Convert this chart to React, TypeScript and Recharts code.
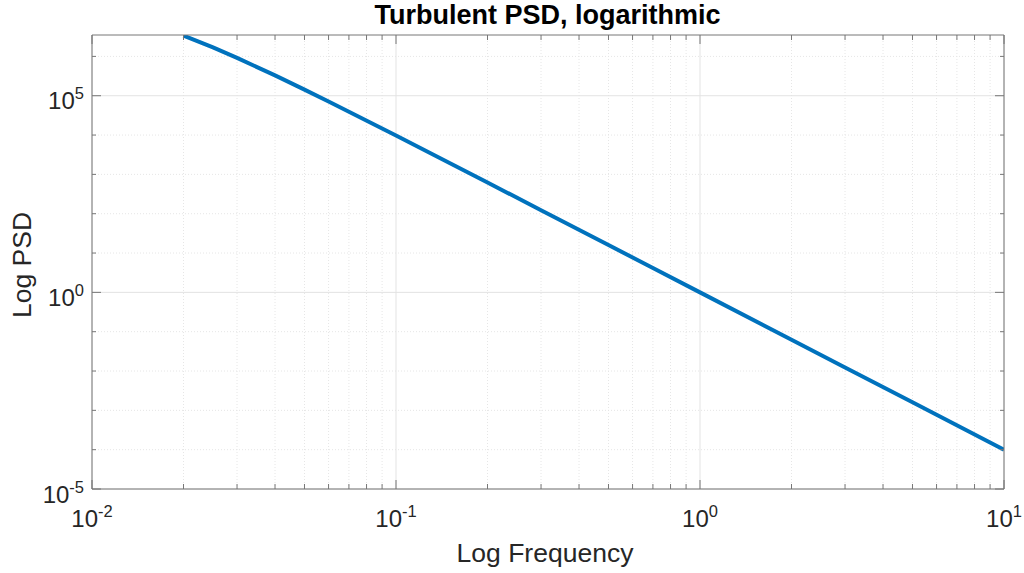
import React from "react";
import { LineChart, Line, XAxis, YAxis, ReferenceLine } from "recharts";

// values (log-log)
const frequency = [0.02, 0.025, 0.03, 0.04, 0.05, 0.06, 0.07, 0.1, 0.15, 0.2, 0.3, 0.5, 0.7, 1, 2, 3, 5, 10];
const psdValues = [3.38e6, 1.69e6, 9.17e5, 3.29e5, 1.43e5, 7.13e4, 3.93e4, 9720, 1950, 620, 123, 16.0, 4.16, 1.0, 0.0625, 0.0123, 0.0016, 0.0001];

const xMajor = [0.01, 0.1, 1, 10];
const xMinor = [
  0.02, 0.03, 0.04, 0.05, 0.06, 0.07, 0.08, 0.09,
  0.2, 0.3, 0.4, 0.5, 0.6, 0.7, 0.8, 0.9,
  2, 3, 4, 5, 6, 7, 8, 9,
];
const yMajor = [1e-5, 1, 1e5];
const yMinor = [1e-4, 1e-3, 1e-2, 1e-1, 10, 100, 1e3, 1e4, 1e6];

const data = frequency.map((f, i) => ({ f, psd: psdValues[i] }));

const FONT = "'Liberation Sans', Arial, Helvetica, sans-serif";
const AXIS = "#777777";
const TEXT = "#262626";
const GRID = "#e3e3e3";
const MINOR_GRID = "#e6e6e6";

const isMajor = (v: number, list: number[]) => list.some((m) => Math.abs(m - v) / m < 1e-9);
const expOf = (v: number) => String(Math.round(Math.log10(v)));

function BottomTick(props: any) {
  const { x, y, payload } = props;
  const v = payload.value;
  const major = isMajor(v, xMajor);
  return (
    <g>
      <line x1={x} x2={x} y1={y} y2={y - (major ? 9 : 5)} stroke={AXIS} />
      {major && (
        <text x={x} y={y + 38} textAnchor="middle" fill={TEXT} fontFamily={FONT} fontSize={24}>
          <tspan>10</tspan>
          <tspan dy={-10} fontSize={16.5}>{expOf(v)}</tspan>
        </text>
      )}
    </g>
  );
}

function TopTick(props: any) {
  const { x, y, payload } = props;
  const major = isMajor(payload.value, xMajor);
  return <line x1={x} x2={x} y1={y} y2={y + (major ? 9 : 5)} stroke={AXIS} />;
}

function LeftTick(props: any) {
  const { x, y, payload } = props;
  const v = payload.value;
  const major = isMajor(v, yMajor);
  return (
    <g>
      <line x1={x} x2={x + (major ? 9 : 4)} y1={y} y2={y} stroke={AXIS} />
      {major && (
        <text x={x - 8} y={y + 13.5} textAnchor="end" fill={TEXT} fontFamily={FONT} fontSize={24}>
          <tspan>10</tspan>
          <tspan dy={-10} fontSize={16.5}>{expOf(v)}</tspan>
        </text>
      )}
    </g>
  );
}

function RightTick(props: any) {
  const { x, y, payload } = props;
  const major = isMajor(payload.value, yMajor);
  return <line x1={x} x2={x - (major ? 9 : 4)} y1={y} y2={y} stroke={AXIS} />;
}

export default function App() {
  const xTicks = [...xMajor, ...xMinor].sort((a, b) => a - b);
  const yTicks = [...yMajor, ...yMinor].sort((a, b) => a - b);
  const xDomain = [0.01, 10];
  const yDomain = [1e-5, 3.5e6];

  return (
    <div style={{ position: "absolute", left: 0, top: 0, width: 1024, height: 573, background: "#fff" }}>
      <LineChart width={1024} height={573} data={data} margin={{ top: 34, right: 19, bottom: 0, left: 0 }}>
        {xMinor.map((v) => (
          <ReferenceLine key={"xm" + v} x={v} stroke={MINOR_GRID} strokeDasharray="1 2" />
        ))}
        {yMinor.map((v) => (
          <ReferenceLine key={"ym" + v} y={v} stroke={MINOR_GRID} strokeDasharray="1 2" />
        ))}
        {xMajor.map((v) => (
          <ReferenceLine key={"xM" + v} x={v} stroke={GRID} />
        ))}
        {yMajor.map((v) => (
          <ReferenceLine key={"yM" + v} y={v} stroke={GRID} />
        ))}
        <XAxis
          dataKey="f"
          type="number"
          scale="log"
          domain={xDomain}
          allowDataOverflow
          ticks={xTicks}
          interval={0}
          tickSize={0}
          tickMargin={0}
          tickLine={false}
          tick={<BottomTick />}
          height={84}
          axisLine={{ stroke: AXIS }}
        />
        <XAxis
          xAxisId="top"
          orientation="top"
          dataKey="f"
          type="number"
          scale="log"
          domain={xDomain}
          allowDataOverflow
          ticks={xTicks}
          interval={0}
          tickSize={0}
          tickMargin={0}
          tickLine={false}
          tick={<TopTick />}
          height={1}
          axisLine={{ stroke: AXIS }}
        />
        <YAxis
          type="number"
          scale="log"
          domain={yDomain}
          allowDataOverflow
          ticks={yTicks}
          interval={0}
          tickSize={0}
          tickMargin={0}
          tickLine={false}
          tick={<LeftTick />}
          width={92}
          axisLine={{ stroke: AXIS }}
        />
        <YAxis
          yAxisId="right"
          orientation="right"
          type="number"
          scale="log"
          domain={yDomain}
          allowDataOverflow
          ticks={yTicks}
          interval={0}
          tickSize={0}
          tickMargin={0}
          tickLine={false}
          tick={<RightTick />}
          width={1}
          axisLine={{ stroke: AXIS }}
        />
        <Line
          dataKey="psd"
          type="linear"
          stroke="#0072BD"
          strokeWidth={4}
          dot={false}
          isAnimationActive={false}
        />
      </LineChart>
      <svg
        width={1024}
        height={573}
        style={{ position: "absolute", left: 0, top: 0, pointerEvents: "none" }}
      >
        <text x={547.5} y={24} textAnchor="middle" fontFamily={FONT} fontSize={27} fontWeight="bold" fill="#000">
          Turbulent PSD, logarithmic
        </text>
        <text x={545} y={562} textAnchor="middle" fontFamily={FONT} fontSize={26.5} fill={TEXT}>
          Log Frequency
        </text>
        <text
          x={31}
          y={265}
          textAnchor="middle"
          fontFamily={FONT}
          fontSize={26.5}
          fill={TEXT}
          transform="rotate(-90 31 265)"
        >
          Log PSD
        </text>
      </svg>
    </div>
  );
}
